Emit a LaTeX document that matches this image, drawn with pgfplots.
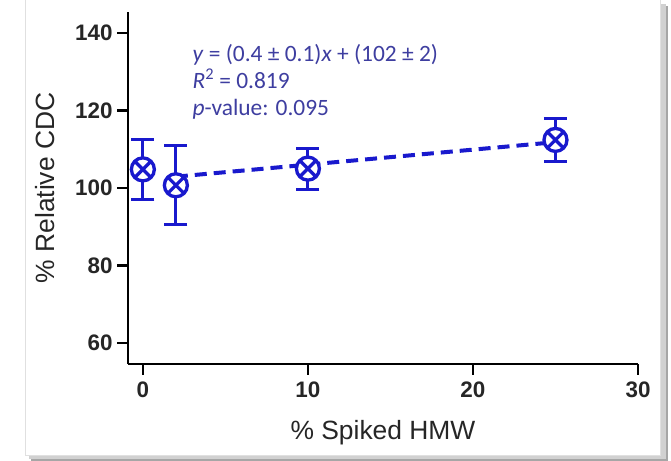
\documentclass[border=0pt]{standalone}
\usepackage{fontspec}
\setmainfont{Liberation Sans}
\newfontfamily\calibri{Carlito}
\usepackage{pgfplots}
\pgfplotsset{compat=1.18}
\usetikzlibrary{plotmarks}

\definecolor{datablue}{RGB}{25,25,205}
\definecolor{fitblue}{RGB}{62,62,160}

% measured points: x, mean, error
\pgfplotstableread{
x   y      e
0   104.8  7.7
2   100.7  10.2
10  105.0  5.3
25  112.4  5.6
}\cdcdata

\begin{document}
\begin{tikzpicture}[x=1bp,y=1bp]
\useasboundingbox (0,0) rectangle (671,461);
% panel with drop shadow
\fill[black!35] (31,0) rectangle (668,455);
\fill[black!18] (29,2) rectangle (666,457);
\fill[white, draw=black!12, line width=0.8bp] (25,6) rectangle (660,470);

\begin{axis}[
  at={(128bp,97bp)}, anchor=south west,
  scale only axis, width=510bp, height=352bp,
  xmin=-0.9, xmax=30, ymin=54.6, ymax=145.4,
  axis x line=bottom, axis y line=left,
  axis line style={-, line width=2.6bp, black},
  every tick/.style={line width=2.6bp, black},
  tick align=outside, major tick length=11bp,
  xtick={0,10,20,30}, ytick={60,80,100,120,140},
  /pgf/number format/assume math mode=true,
  tick label style={font=\fontsize{22.5}{22.5}\selectfont\bfseries, text=black!85},
  xticklabel style={yshift=-3bp},
  yticklabel style={xshift=-1bp},
  xlabel={\% Spiked HMW},
  ylabel={\% Relative CDC},
  every axis x label/.style={at={(axis description cs:0.5,-0.215)}, anchor=base,
    font=\fontsize{26.5}{26.5}\selectfont, text=black!85},
  every axis y label/.style={at={(axis description cs:-0.163,0.5)}, anchor=center, rotate=90,
    font=\fontsize{26.5}{26.5}\selectfont, text=black!85},
  clip=false,
]
% linear fit
\addplot[datablue, line width=4bp, dash pattern=on 12bp off 7bp] coordinates {(2,102.92) (25,111.83)};
% error bars
\addplot[datablue, only marks, mark=none,
  error bars/.cd, y dir=both, y explicit,
  error bar style={line width=3bp, datablue},
  error mark options={rotate=90, mark size=11.5bp, line width=3bp, datablue}]
  table[x=x, y=y, y error=e] {\cdcdata};
% point markers
\addplot[only marks, mark=otimes*, mark size=11.5bp,
  mark options={line width=3.3bp, draw=datablue, fill=white}]
  table[x=x, y=y] {\cdcdata};

\node[anchor=base west, align=left, text=fitblue, inner sep=0pt,
  font=\calibri\fontsize{23.5}{27}\selectfont]
  at (axis cs:3.0,118.8)
  {\textit{y} = (0.4 ± 0.1)\textit{x} + (102 ± 2)\\
   \textit{R}\textsuperscript{2} = 0.819\\
   \textit{p}-value: 0.095};
\end{axis}
\end{tikzpicture}
\end{document}
